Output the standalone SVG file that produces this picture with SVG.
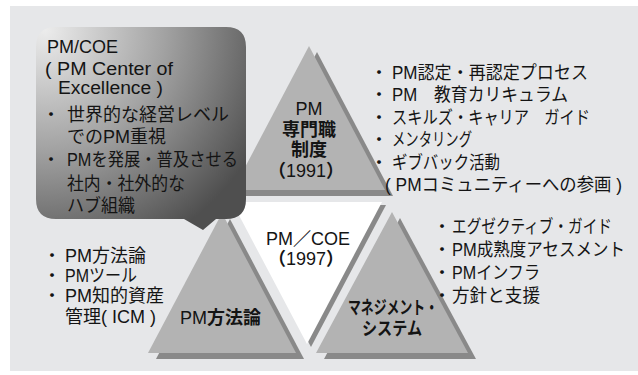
<svg xmlns="http://www.w3.org/2000/svg" width="638" height="375" viewBox="0 0 638 375">
<defs>
<radialGradient id="cg" gradientUnits="userSpaceOnUse" cx="45" cy="30" r="240">
<stop offset="0" stop-color="#ececec"/>
<stop offset="0.5" stop-color="#a2a2a2"/>
<stop offset="1" stop-color="#4f4f4f"/>
</radialGradient>
<style>
text{font-family:"Liberation Sans","Noto Sans CJK JP",sans-serif;font-size:18px;fill:#141414}
.b{font-weight:bold}
.m{text-anchor:middle}
.tri{fill:#b3b3b3}
.sh{fill:#898989}
</style>
</defs>
<rect x="0" y="0" width="638" height="375" fill="#ffffff"/>
<rect x="10" y="6" width="628" height="365" fill="#e6e7e9"/>

<g id="center-coe">
<polygon class="sh" points="236,205 386,205 311,347"/>
<polygon fill="#ffffff" points="232,202 382,202 307,344"/>
<text class="m" x="308" y="245">PM<tspan class="b">／</tspan>COE</text>
<text class="m" x="306" y="265"><tspan class="b">（</tspan>1997<tspan class="b">）</tspan></text>
</g>

<g id="pm-profession">
<polygon class="sh" points="317,52 393,196 241,196"/>
<polygon class="tri" points="309,46 385,190 233,190"/>
<text class="m" x="309" y="115">PM</text>
<text class="m b" x="309" y="136">専門職</text>
<text class="m b" x="309" y="156">制度</text>
<text class="m" x="306" y="177"><tspan class="b">（</tspan>1991<tspan class="b">）</tspan></text>
</g>

<g id="pm-method">
<polygon class="sh" points="230,219 304,359 156,359"/>
<polygon class="tri" points="222,213 296,353 148,353"/>
<text x="180" y="324">PM<tspan class="b">方法論</tspan></text>
</g>

<g id="mgmt-system">
<polygon class="sh" points="400,218 476,359 324,359"/>
<polygon class="tri" points="392,212 468,353 316,353"/>
<text class="m b" x="393" y="314" textLength="90" lengthAdjust="spacingAndGlyphs">マネジメント・</text>
<text class="m b" x="392" y="335" textLength="60" lengthAdjust="spacingAndGlyphs">システム</text>
</g>

<g id="pm-coe-callout">
<path fill="url(#cg)" d="M56,27 H226 Q246,27 246,47 V199 Q246,219 226,219 H216 L203,230 L184,219 H56 Q36,219 36,199 V47 Q36,27 56,27 Z"/>
<text x="47" y="53">PM/COE</text>
<text x="45" y="75" textLength="128" lengthAdjust="spacingAndGlyphs">( PM Center of</text>
<text x="58" y="94" textLength="105" lengthAdjust="spacingAndGlyphs">Excellence )</text>
<text class="m" x="51" y="121">・</text>
<text x="67" y="121">世界的な経営レベル</text>
<text x="67" y="143">でのPM重視</text>
<text class="m" x="51" y="166">・</text>
<text x="67" y="166" textLength="171" lengthAdjust="spacingAndGlyphs">PMを発展・普及させる</text>
<text x="67" y="190" textLength="118" lengthAdjust="spacingAndGlyphs">社内・社外的な</text>
<text x="67" y="212" textLength="68" lengthAdjust="spacingAndGlyphs">ハブ組織</text>
</g>

<g id="profession-list">
<text class="m" x="379" y="79">・</text>
<text x="392" y="79" textLength="196" lengthAdjust="spacingAndGlyphs">PM認定・再認定プロセス</text>
<text class="m" x="379" y="101">・</text>
<text x="392" y="101" textLength="176" lengthAdjust="spacingAndGlyphs">PM　教育カリキュラム</text>
<text class="m" x="379" y="124">・</text>
<text x="392" y="124" textLength="198" lengthAdjust="spacingAndGlyphs">スキルズ・キャリア　ガイド</text>
<text class="m" x="379" y="146">・</text>
<text x="392" y="146" textLength="80" lengthAdjust="spacingAndGlyphs">メンタリング</text>
<text class="m" x="379" y="169">・</text>
<text x="392" y="169" textLength="108" lengthAdjust="spacingAndGlyphs">ギブバック活動</text>
<text x="385" y="191" textLength="237" lengthAdjust="spacingAndGlyphs">( PMコミュニティーへの参画 )</text>
</g>

<g id="mgmt-list">
<text class="m" x="442" y="233">・</text>
<text x="452" y="233" textLength="160" lengthAdjust="spacingAndGlyphs">エグゼクティブ・ガイド</text>
<text class="m" x="442" y="256">・</text>
<text x="452" y="256" textLength="173" lengthAdjust="spacingAndGlyphs">PM成熟度アセスメント</text>
<text class="m" x="442" y="279">・</text>
<text x="452" y="279" textLength="88" lengthAdjust="spacingAndGlyphs">PMインフラ</text>
<text class="m" x="442" y="302">・</text>
<text x="452" y="302" textLength="88" lengthAdjust="spacingAndGlyphs">方針と支援</text>
</g>

<g id="method-list">
<text class="m" x="52" y="262">・</text>
<text x="65" y="262">PM方法論</text>
<text class="m" x="52" y="282">・</text>
<text x="65" y="282" textLength="72" lengthAdjust="spacingAndGlyphs">PMツール</text>
<text class="m" x="52" y="302">・</text>
<text x="65" y="302">PM知的資産</text>
<text x="65" y="323">管理( ICM )</text>
</g>
</svg>
